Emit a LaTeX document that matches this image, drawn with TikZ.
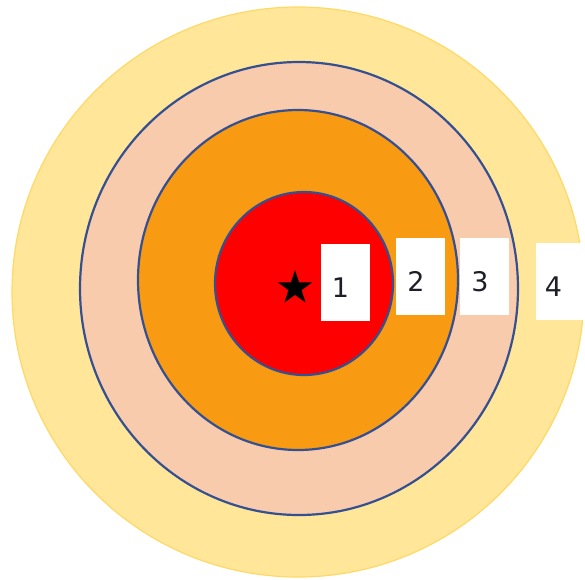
\documentclass[tikz,border=0pt]{standalone}
\usepackage{fontspec}
\setmainfont{DejaVu Sans}
\definecolor{ringyellow}{RGB}{255,230,153}
\definecolor{ringgold}{RGB}{255,217,102}
\definecolor{ringpeach}{RGB}{248,203,173}
\definecolor{ringorange}{RGB}{248,154,18}
\definecolor{ringred}{RGB}{255,0,0}
\definecolor{ringblue}{RGB}{52,80,145}
\definecolor{digitgray}{RGB}{30,30,40}
\usepackage{tikz}
\usetikzlibrary{shapes.geometric}
\newcommand{\zonenum}[1]{#1\hspace*{9pt}}
\tikzset{
  ring/.style={draw=ringblue,line width=2.2pt},
  numbox/.style={fill=white,minimum width=49pt,minimum height=77pt,inner sep=0pt,
                 text height=29pt,text depth=0pt,
                 text=digitgray,font=\fontsize{27}{27}\selectfont}
}

\begin{document}
\begin{tikzpicture}[x=1pt,y=-1pt]
    \useasboundingbox (0,0) rectangle (585,579);
    \fill[white] (0,0) rectangle (585,579);
    % rings, outermost first
    \draw[fill=ringyellow,draw=ringgold,line width=1.2pt] (298,292) ellipse [x radius=286,y radius=285];
    \draw[ring,fill=ringpeach] (299,288.5) ellipse [x radius=219,y radius=226.5];
    \draw[ring,fill=ringorange] (298,280) ellipse [x radius=160,y radius=170];
    \draw[ring,fill=ringred] (304,283.5) ellipse [x radius=89,y radius=91.5];
    \node[star,star points=5,star point ratio=2.6,fill=black,minimum size=36pt,inner sep=0pt]
      (centre) at (295,288) {};
    % zone numbers
    \node[numbox] (zone1) at (345,282.5) {\zonenum{1}};
    \node[numbox] (zone2) at (420.5,276.5) {\zonenum{2}};
    \node[numbox] (zone3) at (484.5,276.5) {\zonenum{3}};
    \node[numbox] (zone4) at (560,281.5) {\zonenum{4}\hspace*{4pt}};
  \end{tikzpicture}
\end{document}
